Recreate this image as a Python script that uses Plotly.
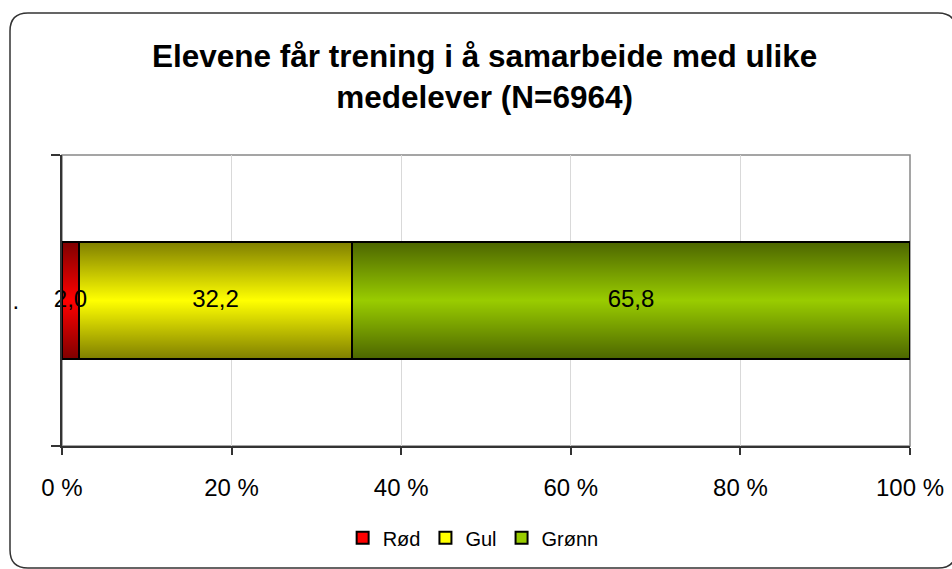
import plotly.graph_objects as go

# ---- data ----
category = ["."]
series_names = ["Rød", "Gul", "Grønn"]
series_values = [2.0, 32.2, 65.8]
series_colors = ["#FF0000", "#FFFF00", "#99CC00"]
x_tick_values = [0, 20, 40, 60, 80, 100]
x_tick_labels = ["0 %", "20 %", "40 %", "60 %", "80 %", "100 %"]
title_text = "<b>Elevene får trening i å samarbeide med ulike<br>medelever (N=6964)</b>"

# ---- layout constants ----
W, H = 952, 569
ML, MR, MT, MB = 62, 42, 155, 123
BAR_W = 0.4
FONT = "Liberation Sans, Arial, sans-serif"

fig = go.Figure()

for name, val, col in zip(series_names, series_values, series_colors):
    fig.add_trace(go.Bar(
        y=[0], x=[val], name=name, orientation="h", width=BAR_W,
        marker=dict(color=col, line=dict(color="black", width=2)),
        textposition="none",
        hovertemplate=name + ": %{x:.1f}<extra></extra>",
    ))

# gradient shading overlay (dark at top/bottom, clear in middle)
total = sum(series_values)
fig.add_trace(go.Scatter(
    x=[0, total, total, 0, 0],
    y=[-BAR_W / 2, -BAR_W / 2, BAR_W / 2, BAR_W / 2, -BAR_W / 2],
    mode="lines", fill="toself", line=dict(width=0),
    fillgradient=dict(type="vertical", colorscale=[
        [0, "rgba(0,0,0,0.5)"], [0.5, "rgba(0,0,0,0)"], [1, "rgba(0,0,0,0.5)"]]),
    showlegend=False, hoverinfo="skip",
))

# data labels centred on each stacked segment
mids, acc = [], 0.0
for v in series_values:
    mids.append(acc + v / 2)
    acc += v
fig.add_trace(go.Scatter(
    x=mids, y=[0] * len(mids), mode="text",
    text=[f"{v:.1f}".replace(".", ",") for v in series_values],
    textposition="middle center",
    textfont=dict(family=FONT, size=24, color="black"),
    showlegend=False, hoverinfo="skip", cliponaxis=False,
))


def px2paper(px, py):
    return (px - ML) / (W - ML - MR), (H - MB - py) / (H - MT - MB)


# rounded outer border in pixel coords -> paper coords
x0, x1, y0, y1, r = 10, 956, 13, 568, 18
pts = {
    "a": px2paper(x0 + r, y0), "b": px2paper(x1 - r, y0), "c": px2paper(x1, y0),
    "d": px2paper(x1, y0 + r), "e": px2paper(x1, y1 - r), "f": px2paper(x1, y1),
    "g": px2paper(x1 - r, y1), "h": px2paper(x0 + r, y1), "i": px2paper(x0, y1),
    "j": px2paper(x0, y1 - r), "k": px2paper(x0, y0 + r), "l": px2paper(x0, y0),
}
p = lambda k: f"{pts[k][0]:.5f},{pts[k][1]:.5f}"
path = (f"M{p('a')} L{p('b')} Q{p('c')} {p('d')} L{p('e')} Q{p('f')} {p('g')} "
        f"L{p('h')} Q{p('i')} {p('j')} L{p('k')} Q{p('l')} {p('a')} Z")

fig.add_shape(type="path", path=path, xref="paper", yref="paper",
              line=dict(color="#333333", width=1.5), layer="below")
fig.add_shape(type="rect", xref="paper", yref="paper", x0=0, x1=1, y0=0, y1=1,
              line=dict(color="#888888", width=1.5), layer="below")

fig.update_layout(
    width=W, height=H,
    margin=dict(l=ML, r=MR, t=MT, b=MB, pad=0, autoexpand=False),
    paper_bgcolor="white", plot_bgcolor="white",
    barmode="stack", separators=", ",
    font=dict(family=FONT, color="black"),
    title=dict(text=title_text, x=0.509, xanchor="center", xref="container",
               y=0.882, yanchor="top", yref="container",
               font=dict(family=FONT, size=31.5, color="black")),
    showlegend=True,
    legend=dict(orientation="h", x=0.497, xanchor="center", xref="container",
                y=0.055, yanchor="middle", yref="container",
                font=dict(family=FONT, size=20, color="black"),
                traceorder="normal", itemwidth=30),
    xaxis=dict(range=[0, 100], tickvals=x_tick_values, ticktext=x_tick_labels,
               showgrid=True, gridcolor="#d9d9d9", gridwidth=1,
               showline=True, linecolor="#333333", linewidth=2,
               ticks="outside", ticklen=7, tickcolor="#333333", tickwidth=2,
               tickfont=dict(family=FONT, size=24, color="black"),
               ticklabelstandoff=12, zeroline=False, fixedrange=True,
               automargin=False),
    yaxis=dict(range=[-0.5, 0.5], tickvals=[0], ticktext=category,
               showgrid=False, zeroline=False,
               showline=True, linecolor="#333333", linewidth=2,
               ticks="", tickfont=dict(family=FONT, size=24, color="black"),
               ticklabelstandoff=36,
               minor=dict(tickvals=[-0.5, 0.5], ticks="outside", ticklen=9,
                          tickcolor="#333333", tickwidth=2, showgrid=False),
               fixedrange=True, automargin=False),
)

fig.write_html("out.html", config={"displayModeBar": False},
               post_script="document.body.style.margin='0px';")
